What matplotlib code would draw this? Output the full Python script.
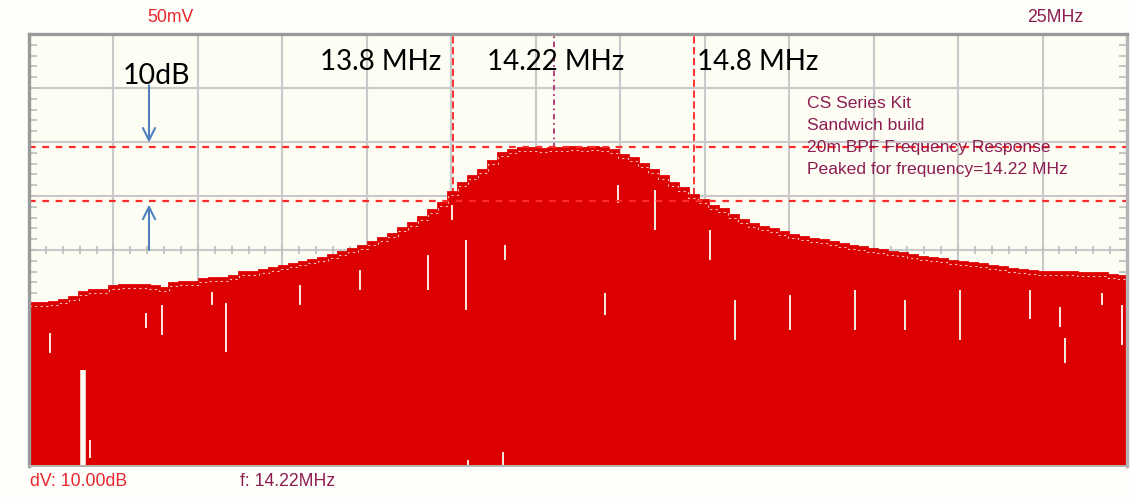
import numpy as np
import matplotlib
matplotlib.use("Agg")
import matplotlib.pyplot as plt

# ---- sweep settings (MHz) and display scale (dB) ----
f_start, f_stop = 12.034, 16.603
db_top, db_bottom = 0.0, -80.0
n_hdiv, n_vdiv = 13, 8

# peak-hold trace level per sweep bin (dB)
trace_db = [
    -49.8, -49.8, -49.6, -49.3, -48.7, -47.8, -47.4, -47.4, -46.7, -46.5,
    -46.5, -46.5, -46.7, -47.0, -46.1, -45.9, -45.9, -45.4, -45.2, -45.2,
    -44.8, -44.1, -44.1, -43.7, -43.3, -43.0, -42.6, -42.2, -41.9, -41.5,
    -40.9, -40.4, -39.8, -39.3, -38.5, -37.8, -37.0, -35.9, -35.0, -33.9,
    -32.6, -31.3, -29.3, -27.6, -26.3, -25.2, -23.5, -22.0, -21.5, -21.1,
    -21.1, -21.3, -21.1, -21.1, -20.9, -21.1, -20.9, -21.1, -21.5, -22.4,
    -23.0, -24.1, -25.2, -26.3, -27.6, -28.5, -29.8, -30.7, -31.9, -32.4,
    -33.5, -34.4, -35.2, -35.7, -36.1, -36.7, -37.2, -37.6, -38.0, -38.1,
    -38.5, -38.9, -39.3, -39.4, -39.8, -40.0, -40.4, -40.6, -40.9, -41.3,
    -41.5, -41.7, -42.0, -42.2, -42.4, -42.6, -43.0, -43.1, -43.5, -43.7,
    -43.9, -44.1, -44.1, -44.1, -44.1, -44.3, -44.3, -44.3, -44.6, -44.8,
]

# dropouts inside the trace: frequency (MHz), upper dB, lower dB
gap_freq = [12.259, 12.288, 12.122, 12.521, 12.588, 12.796, 12.854, 13.162,
            13.412, 13.695, 13.794, 13.853, 13.861, 14.007, 14.015, 14.431,
            14.485, 14.639, 14.868, 14.972, 15.201, 15.472, 15.680, 15.908,
            16.200, 16.325, 16.345, 16.499, 16.583]
gap_top = [-62.2, -75.2, -55.4, -51.7, -50.2, -47.8, -49.8, -46.5,
           -43.7, -40.9, -31.7, -38.1, -78.9, -77.4, -39.1, -48.0,
           -28.0, -28.9, -36.3, -49.3, -48.3, -47.4, -49.3, -47.4,
           -47.4, -50.6, -56.3, -48.0, -50.2]
gap_bottom = [-80.0, -78.5, -59.1, -54.4, -55.7, -50.2, -58.9, -50.2,
              -47.4, -47.4, -34.4, -51.1, -80.0, -80.0, -41.9, -52.0,
              -31.3, -36.3, -41.9, -56.7, -54.8, -54.8, -54.8, -56.7,
              -52.8, -54.3, -60.9, -50.2, -57.6]

# markers and reference levels
marker_freqs = [13.8, 14.8]
marker_labels = ["13.8 MHz", "14.8 MHz"]
peak_freq = 14.22
peak_label = "14.22 MHz"
ref_levels = [-21.0, -31.0]
span_label = "10dB"
notes = ["CS Series Kit", "Sandwich build",
         "20m BPF Frequency Response", "Peaked for frequency=14.22 MHz"]

RED = "#dd0000"
BG = "#fdfdf4"
NOTE = "#8c1c52"
SCOPE_FONT = "Liberation Sans"
LABEL_FONT = "Lato"

fig = plt.figure(figsize=(11.3, 5.0), dpi=100, facecolor="#fefefa")
ax = fig.add_axes([29 / 1130, 34 / 500, 1098 / 1130, 432 / 500])
ax.set_facecolor(BG)
ax.set_xlim(f_start, f_stop)
ax.set_ylim(db_bottom, db_top)
ax.set_xticks([])
ax.set_yticks([])

# graticule
xdiv = np.linspace(f_start, f_stop, n_hdiv + 1)
ydiv = np.linspace(db_bottom, db_top, n_vdiv + 1)
for x in xdiv[1:-1]:
    ax.axvline(x, color="#c9c9c9", lw=1.5, zorder=0.5)
for y in ydiv[1:-1]:
    ax.axhline(y, color="#c9c9c9", lw=1.5, zorder=0.5)

# minor ticks along centre line and side borders
mid_y = ydiv[n_vdiv // 2]
xminor = np.linspace(f_start, f_stop, n_hdiv * 5 + 1)
ax.plot(xminor, np.full_like(xminor, mid_y), ls="none", marker="|",
        ms=6, mew=1.2, color="#bdbdbd", zorder=0.6)
yminor = np.linspace(db_bottom, db_top, n_vdiv * 5 + 1)
for xe, mk in ((f_start, matplotlib.markers.TICKRIGHT),
               (f_stop, matplotlib.markers.TICKLEFT)):
    ax.plot(np.full_like(yminor, xe), yminor, ls="none", marker=mk,
            ms=6, mew=1.2, color="#bdbdbd", zorder=0.6)

# marker lines
for f in marker_freqs:
    ax.axvline(f, color="#ff2020", lw=1.3, ls=(0, (4, 2)), zorder=0.8)
ax.axvline(peak_freq, color="#a8326e", lw=1.3, ls=(0, (3, 2, 1, 2)), zorder=0.8)
for lv in ref_levels:
    ax.axhline(lv, color="#ff2a2a", lw=1.6, ls=(0, (3, 3)), zorder=3)

# trace
edges = np.linspace(f_start, f_stop, len(trace_db) + 1)
ax.stairs(trace_db, edges, baseline=db_bottom, fill=True, color=RED, zorder=2)
ax.stairs(trace_db, edges, baseline=None, color=RED, lw=2.0, zorder=2.1)
ax.stairs(np.array(trace_db) - 0.55, edges, baseline=None,
          color="#f7c0c0", lw=0.8, ls=(0, (2, 3)), zorder=2.2)
for f, t, b in zip(gap_freq, gap_top, gap_bottom):
    w = 4.0 if b - t < -15 else 1.3
    ax.vlines(f, b, t, color=BG, lw=w, zorder=2.3)

# frame
for name, sp in ax.spines.items():
    sp.set_zorder(5)
    sp.set_color("#9a9a9a" if name in ("top", "left") else "#b4b4b4")
    sp.set_linewidth(2.4 if name in ("top", "left", "right") else 1.4)

# scope labels
fig.text(170 / 1130, 1 - 18 / 500, "50mV", color="#e8262c", fontsize=12.7,
         family=SCOPE_FONT, ha="center", va="center")
fig.text(1055 / 1130, 1 - 18 / 500, "25MHz", color=NOTE, fontsize=12.7,
         family=SCOPE_FONT, ha="center", va="center")
fig.text(30 / 1130, 1 - 482 / 500, "dV: 10.00dB", color="#e8262c", fontsize=12.7,
         family=SCOPE_FONT, ha="left", va="center")
fig.text(240 / 1130, 1 - 482 / 500, "f: 14.22MHz", color=NOTE, fontsize=12.7,
         family=SCOPE_FONT, ha="left", va="center")

for i, line in enumerate(notes):
    fig.text(807 / 1130, 1 - (103 + 22.2 * i) / 500, line, color=NOTE,
             fontsize=12.6, family=SCOPE_FONT, ha="left", va="center",
             zorder=6)

# annotations
fig.text(441 / 1130, 1 - 62 / 500, marker_labels[0], fontsize=20,
         family=LABEL_FONT, ha="right", va="center")
fig.text(487 / 1130, 1 - 62 / 500, peak_label, fontsize=20,
         family=LABEL_FONT, ha="left", va="center")
fig.text(697 / 1130, 1 - 62 / 500, marker_labels[1], fontsize=20,
         family=LABEL_FONT, ha="left", va="center")
fig.text(156 / 1130, 1 - 76 / 500, span_label, fontsize=20.5,
         family=LABEL_FONT, ha="center", va="center")

arrow_f = f_start + (149 - 29) / 1098 * (f_stop - f_start)
ax.annotate("", xy=(arrow_f, ref_levels[0] + 0.9), xytext=(arrow_f, ref_levels[0] + 11.5),
            arrowprops=dict(arrowstyle="->", color="#4f81bd", lw=1.5,
                            mutation_scale=22, shrinkA=0, shrinkB=0), zorder=4)
ax.annotate("", xy=(arrow_f, ref_levels[1] - 0.6), xytext=(arrow_f, ref_levels[1] - 9.0),
            arrowprops=dict(arrowstyle="->", color="#4f81bd", lw=1.5,
                            mutation_scale=22, shrinkA=0, shrinkB=0), zorder=4)

fig.savefig("out.png", dpi=100, facecolor=fig.get_facecolor())
